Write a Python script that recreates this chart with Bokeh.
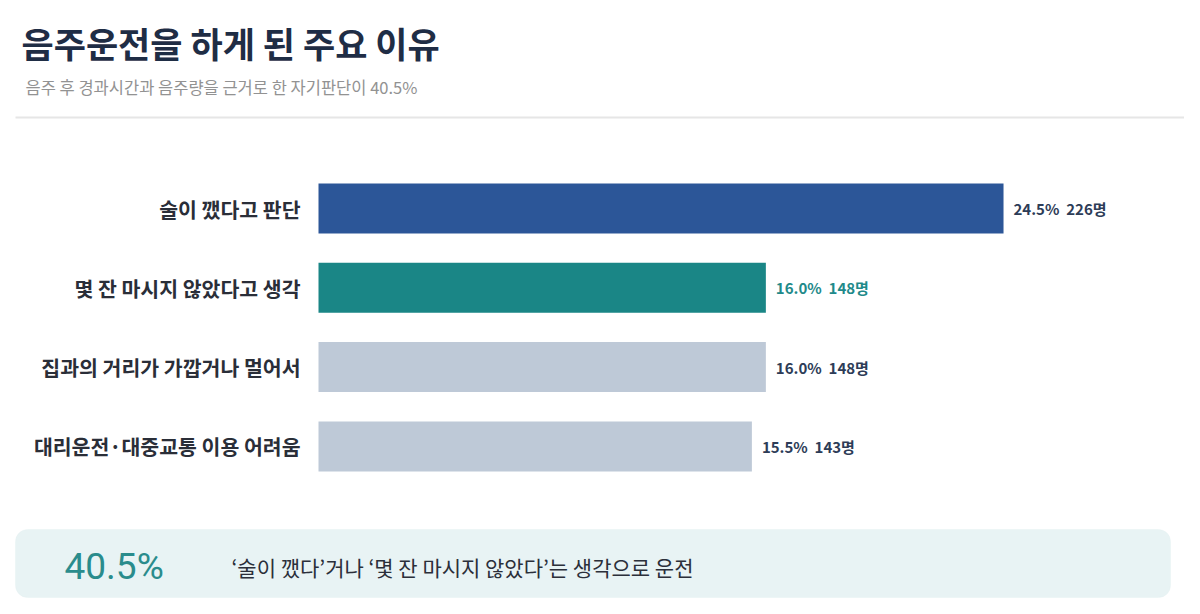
from bokeh.plotting import figure
from bokeh.models import Range1d, ColumnDataSource, BoxAnnotation, Label
from bokeh.core.properties import value
from bokeh.embed import file_html
from bokeh.resources import INLINE

# data
reasons = ["술이 깼다고 판단", "몇 잔 마시지 않았다고 생각",
           "집과의 거리가 가깝거나 멀어서", "대리운전·대중교통 이용 어려움"]
pct = [24.5, 16.0, 16.0, 15.5]
counts = [226, 148, 148, 143]
total_pct = 40.5

title = "음주운전을 하게 된 주요 이유"
subtitle = "음주 후 경과시간과 음주량을 근거로 한 자기판단이 40.5%"
note = "‘술이 깼다’거나 ‘몇 잔 마시지 않았다’는 생각으로 운전"

bar_colors = ["#2c5698", "#1a8686", "#bec9d7", "#bec9d7"]
label_colors = ["#2d3c57", "#1f8a8a", "#2d3c57", "#2d3c57"]

KR = "Noto Sans CJK KR"
W, H = 1184, 598
PPX = 27.96          # pixels per percent
X0 = 318             # px of 0%
ROW = 79.3           # pixels between bar rows
Y0 = 208             # px of first row centre


def dx(px):
    return (px - X0) / PPX


def dy(py):
    return (py - Y0) / ROW


p = figure(width=W, height=H, output_backend="svg", toolbar_location=None,
           x_range=Range1d(dx(0), dx(W)), y_range=Range1d(dy(H), dy(0)),
           min_border=0, outline_line_color=None)
p.axis.visible = False
p.grid.visible = False
p.background_fill_color = "white"

src = ColumnDataSource(dict(
    idx=list(range(len(reasons))),
    reason=reasons,
    pct=pct,
    lab=[f"{v:.1f}%\u00a0\u00a0{c}명" for v, c in zip(pct, counts)],
    color=bar_colors,
    lcolor=label_colors,
    zero=[0] * len(reasons),
))

p.hbar(y="idx", left=0, right="pct", height=50 / ROW, source=src,
       fill_color="color", line_color=None)

p.text(x="zero", y="idx", text="reason", source=src, x_offset=-18,
       text_align="right", text_baseline="middle", text_font=value(KR),
       text_font_style="bold", text_font_size="20.5px", text_color="#2a2e38")

p.text(x="pct", y="idx", text="lab", source=src, x_offset=10,
       text_align="left", text_baseline="middle", text_font=value(KR),
       text_font_style="bold", text_font_size="15px", text_color="lcolor")

# header
p.add_layout(Label(x=dx(21), y=dy(42), text=title, text_font=KR,
                   text_font_style="bold", text_font_size="35px",
                   text_color="#1f2d45", text_baseline="middle"))
p.add_layout(Label(x=dx(25), y=dy(86), text=subtitle, text_font=KR,
                   text_font_size="16.5px", text_color="#929292",
                   text_baseline="middle"))
p.segment(x0=[dx(15)], y0=[dy(117)], x1=[dx(1184)], y1=[dy(117)],
          line_color="#e6e6e6", line_width=2)

# summary box
p.add_layout(BoxAnnotation(left=dx(15), right=dx(1170), top=dy(529), bottom=dy(597),
                           fill_color="#e8f3f4", fill_alpha=1, line_color="#e1eef0",
                           border_radius=12))
p.add_layout(Label(x=dx(64), y=dy(566), text=f"{total_pct}%", text_font="Roboto",
                   text_font_size="37px", text_color="#2a8c8c",
                   text_baseline="middle"))
p.add_layout(Label(x=dx(231), y=dy(566), text=note, text_font=KR,
                   text_font_size="21px", text_color="#2b2f3a",
                   text_baseline="middle"))

open("out.html", "w").write(file_html(p, INLINE))
